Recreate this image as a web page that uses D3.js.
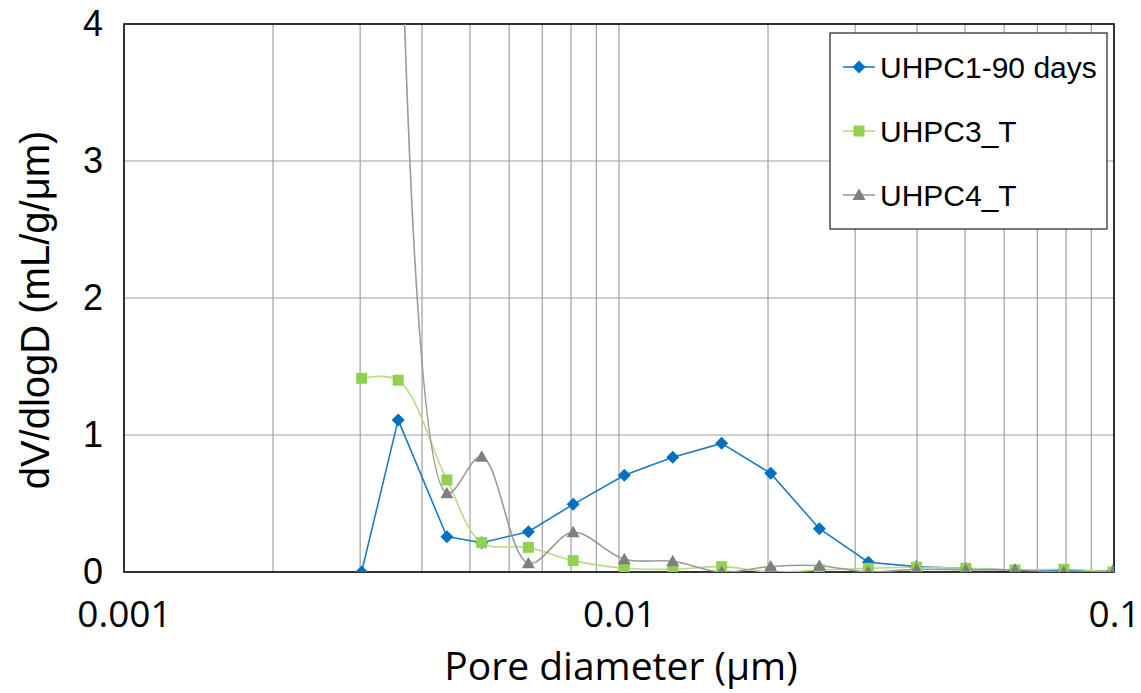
<!DOCTYPE html>
<html>
<head>
<meta charset="utf-8">
<script src="https://cdn.jsdelivr.net/npm/d3@7"></script>
<style>
  html, body { margin: 0; padding: 0; background: #fff; }
  svg { display: block; }
</style>
</head>
<body>
<svg id="chart" width="1141" height="693"></svg>
<script>
// Pore size distribution (MIP), dV/dlogD against pore diameter
const poreDiameter = [0.00302, 0.00358, 0.00449, 0.00528, 0.00656, 0.00808, 0.01025, 0.01284,
                      0.01612, 0.02025, 0.0254, 0.0319, 0.0399, 0.0502, 0.0631, 0.0792, 0.0995];
const uhpc1_90d = [0, 1.11, 0.258, 0.214, 0.294, 0.494, 0.706, 0.837,
                   0.939, 0.72, 0.316, 0.071, 0.039, 0.025, 0.015, 0.01, 0.005];
const uhpc3_T   = [1.414, 1.40, 0.672, 0.214, 0.18, 0.083, 0.027, 0.02,
                   0.039, 0.0, 0.015, 0.027, 0.035, 0.027, 0.015, 0.02, 0.0];
const uhpc4_T   = [null, 6.0, 0.574, 0.842, 0.063, 0.29, 0.093, 0.078,
                   0.0, 0.04, 0.046, 0.0, 0.02, 0.015, 0.015, 0.0, 0.0];

const seriesNames = ["UHPC1-90 days", "UHPC3_T", "UHPC4_T"];
const xTickValues = [0.001, 0.01, 0.1];
const xTickLabels = ["0.001", "0.01", "0.1"];
const yTickValues = [0, 1, 2, 3, 4];

const svg = d3.select("#chart");
const plot = { left: 124, right: 1114, top: 24, bottom: 572 };

const x = d3.scaleLog().domain([0.001, 0.1]).range([plot.left, plot.right]);
const y = d3.scaleLinear().domain([0, 4]).range([plot.bottom, plot.top]);

svg.append("defs").append("clipPath").attr("id", "plotClip")
  .append("rect")
  .attr("x", plot.left).attr("y", plot.top)
  .attr("width", plot.right - plot.left).attr("height", plot.bottom - plot.top);

// grid: every decade subdivision vertically, unit steps horizontally
const minorX = [];
for (let d = 0.001; d < 0.1 - 1e-9; d *= 10) {
  for (let k = 2; k <= 10; k++) minorX.push(d * k);
}
const grid = svg.append("g");
grid.selectAll("line.vx").data(minorX.filter(v => v < 0.0999)).join("line")
  .attr("x1", d => x(d)).attr("x2", d => x(d))
  .attr("y1", plot.top).attr("y2", plot.bottom)
  .attr("stroke", "#a0a0a0").attr("stroke-width", 1.2);
grid.selectAll("line.hy").data(yTickValues.slice(1, -1)).join("line")
  .attr("x1", plot.left).attr("x2", plot.right)
  .attr("y1", d => y(d)).attr("y2", d => y(d))
  .attr("stroke", "#a0a0a0").attr("stroke-width", 1.2);

// plot frame
svg.append("rect")
  .attr("x", plot.left).attr("y", plot.top)
  .attr("width", plot.right - plot.left).attr("height", plot.bottom - plot.top)
  .attr("fill", "none").attr("stroke", "#000").attr("stroke-width", 1.6);

// axes (labels only, ticks hidden)
const xAxis = d3.axisBottom(x).tickValues(xTickValues)
  .tickFormat((d, i) => xTickLabels[i]).tickSize(0).tickPadding(29);
svg.append("g").attr("transform", `translate(0,${plot.bottom})`).call(xAxis)
  .call(g => g.select(".domain").remove())
  .selectAll("text")
  .attr("font-family", "'Open Sans', sans-serif").attr("font-size", 37).attr("fill", "#000");

const yAxis = d3.axisLeft(y).tickValues(yTickValues).tickFormat(d3.format("d"))
  .tickSize(0).tickPadding(21);
svg.append("g").attr("transform", `translate(${plot.left},0)`).call(yAxis)
  .call(g => g.select(".domain").remove())
  .selectAll("text")
  .attr("font-family", "'Liberation Sans', Arial, sans-serif").attr("font-size", 36).attr("fill", "#000");

// axis titles
svg.append("text")
  .attr("x", 621).attr("y", 680)
  .attr("text-anchor", "middle")
  .attr("font-family", "'Open Sans', sans-serif").attr("font-size", 39)
  .text("Pore diameter (μm)");
svg.append("text")
  .attr("transform", "translate(49,310) rotate(-90)")
  .attr("text-anchor", "middle")
  .attr("font-family", "'Liberation Sans', Arial, sans-serif").attr("font-size", 40)
  .text("dV/dlogD (mL/g/μm)");

// marker shapes
const markerPath = {
  diamond: "M0,-6.5L6.5,0L0,6.5L-6.5,0Z",
  square: "M-5.5,-5.5H5.5V5.5H-5.5Z",
  triangle: "M0,-6.5L6.5,5L-6.5,5Z"
};

const series = [
  { name: seriesNames[0], values: uhpc1_90d, color: "#0070C0", line: "#1a7cc4", marker: "diamond", curve: d3.curveLinear },
  { name: seriesNames[1], values: uhpc3_T, color: "#92D050", line: "#b5dc86", marker: "square", curve: d3.curveCatmullRom.alpha(0.5) },
  { name: seriesNames[2], values: uhpc4_T, color: "#7F7F7F", line: "#9a9a9a", marker: "triangle", curve: d3.curveCatmullRom.alpha(0.5) }
];

const dataArea = svg.append("g").attr("clip-path", "url(#plotClip)");

series.forEach(s => {
  const pts = poreDiameter.map((d, i) => ({ d, v: s.values[i] })).filter(p => p.v !== null);
  const line = d3.line().x(p => x(p.d)).y(p => y(p.v)).curve(s.curve);
  dataArea.append("path")
    .datum(pts)
    .attr("d", line)
    .attr("fill", "none")
    .attr("stroke", s.line)
    .attr("stroke-width", 1.6);
  s.pts = pts;
});

series.forEach(s => {
  dataArea.selectAll(null).data(s.pts.filter(p => p.v <= 4)).join("path")
    .attr("transform", p => `translate(${x(p.d)},${y(p.v)})`)
    .attr("d", markerPath[s.marker])
    .attr("fill", s.color);
});

// legend
const legend = svg.append("g");
legend.append("rect")
  .attr("x", 830).attr("y", 33).attr("width", 277).attr("height", 196)
  .attr("fill", "#fff").attr("stroke", "#222").attr("stroke-width", 1.2);
const rowY = [67, 131, 195];
series.forEach((s, i) => {
  const g = legend.append("g").attr("transform", `translate(0,${rowY[i]})`);
  g.append("line").attr("x1", 843).attr("x2", 875).attr("y1", 0).attr("y2", 0)
    .attr("stroke", s.line).attr("stroke-width", 1.6);
  g.append("path").attr("transform", "translate(859,0)").attr("d", markerPath[s.marker]).attr("fill", s.color);
  g.append("text").attr("x", 880).attr("y", 0).attr("dy", "0.36em")
    .attr("font-family", "'Liberation Sans', Arial, sans-serif").attr("font-size", 30)
    .text(s.name);
});
</script>
</body>
</html>
